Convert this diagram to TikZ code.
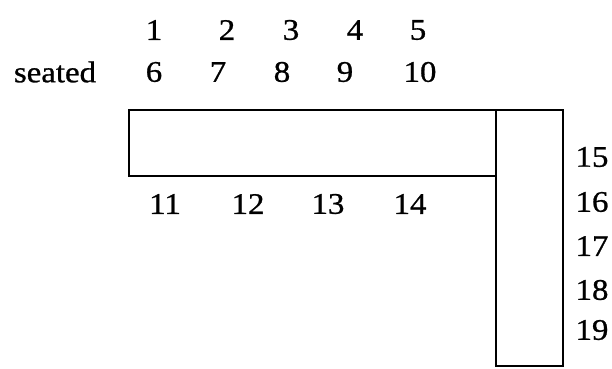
\documentclass[tikz,border=0pt]{standalone}
\usepackage{fontspec}
\setmainfont{Liberation Serif}[FakeStretch=1.1, FakeBold=0.9]
\usepackage{tikz}
\usetikzlibrary{positioning}

\begin{document}
\begin{tikzpicture}[
    x=1bp, y=-1bp,
    num/.style={inner sep=0pt, font=\fontsize{30}{32}\selectfont},
    table/.style={draw, line width=1.8pt},
]
\useasboundingbox (0,0) rectangle (612,368);

% seats along the top
\node[num] (seated) at (55,72) {seated};
\node[num] (s1) at (154,30) {1};
\node[num] (s2) at (227,30) {2};
\node[num] (s3) at (291,30) {3};
\node[num] (s4) at (355,30) {4};
\node[num] (s5) at (418,30) {5};
\node[num] (s6) at (154,72) {6};
\node[num] (s7) at (218,72) {7};
\node[num] (s8) at (282,72) {8};
\node[num] (s9) at (345,72) {9};
\node[num] (s10) at (420,72) {10};

% the tables
\draw[table] (129,110) rectangle (496,176);
\draw[table] (496,110) rectangle (563,366);

% seats below and right
\node[num] (s11) at (165,204) {11};
\node[num] (s12) at (248,204) {12};
\node[num] (s13) at (328,204) {13};
\node[num] (s14) at (410,204) {14};
\node[num] (s15) at (592,157) {15};
\node[num] (s16) at (592,202) {16};
\node[num] (s17) at (592,246) {17};
\node[num] (s18) at (592,290) {18};
\node[num] (s19) at (592,330) {19};

\end{tikzpicture}
\end{document}
